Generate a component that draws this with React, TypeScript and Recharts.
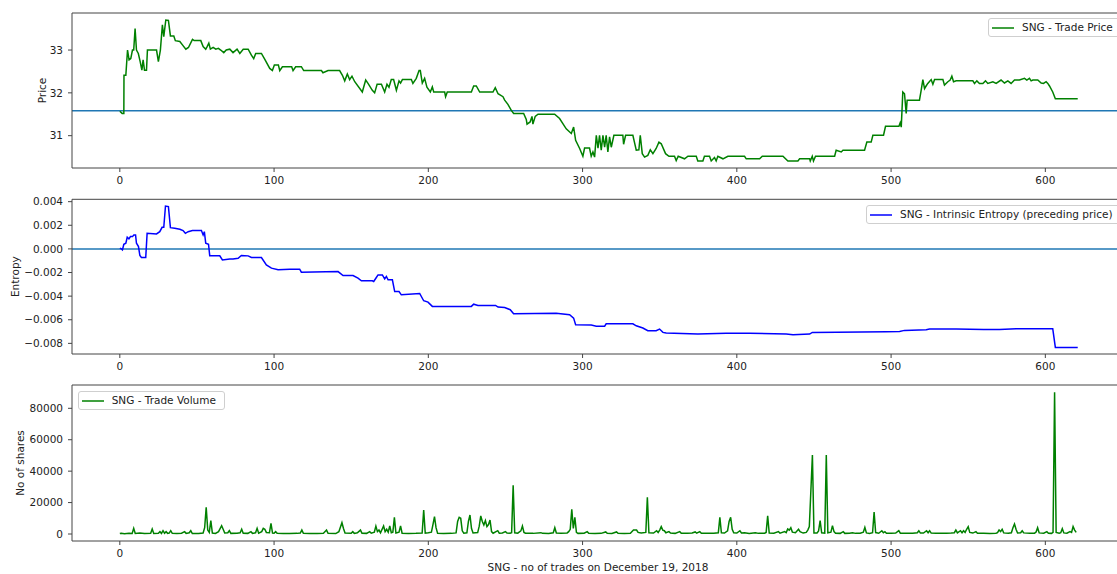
import React from 'react';
import { LineChart, Line, XAxis, YAxis, ReferenceLine, Legend } from 'recharts';

// ---- data (x = trade number) ----
const pricePoints: [number, number][] = [
  [0, 31.57], [1.5, 31.52], [2.6, 31.52], [2.7, 32.41], [3.9, 32.41], [5, 33.0], [6, 32.77], [7.1, 32.8], [8.2, 33.0], [9, 33.0],
  [9.9, 33.5], [10.8, 33.0], [12, 32.92], [13.2, 32.73], [14.3, 32.53], [15.1, 32.77], [16, 32.53], [17.3, 32.53], [17.9, 33.0], [23.8, 33.0],
  [25, 32.73], [26.3, 33.0], [27.6, 33.59], [28.5, 33.31], [29.8, 33.7], [31.5, 33.69], [32.8, 33.33], [35, 33.33], [36, 33.22], [38.9, 33.2],
  [40.6, 33.12], [42.8, 33.02], [44.5, 33.06], [47.1, 33.25], [48.2, 33.22], [52.5, 33.22], [54, 33.08], [55.7, 33.02], [56.6, 33.08], [57.7, 33.16],
  [58.7, 33.02], [60.5, 33.06], [62.2, 33.02], [63.9, 33.04], [65.4, 33.0], [67.4, 32.94], [69, 33.0], [71.3, 33.02], [73.4, 32.94], [76, 33.02],
  [77.8, 32.92], [80, 33.02], [83.2, 33.02], [85.3, 32.88], [86.8, 32.8], [88.1, 32.92], [91.8, 32.92], [94, 32.78], [97.2, 32.57], [98.9, 32.52],
  [100.2, 32.65], [102.8, 32.65], [103.7, 32.52], [105.4, 32.61], [111.4, 32.61], [112.3, 32.52], [114, 32.61], [117.7, 32.61], [119.2, 32.52], [130.7, 32.52],
  [131.7, 32.47], [135, 32.52], [142.5, 32.52], [144.3, 32.41], [145.8, 32.28], [147.5, 32.44], [149, 32.31], [150.5, 32.39], [152.3, 32.26], [157.2, 32.02],
  [159.4, 32.3], [160.9, 32.22], [163.7, 32.06], [165.2, 32.0], [166.8, 32.2], [169.6, 32.2], [171.7, 32.02], [173.2, 32.2], [174.5, 32.13], [176, 32.31],
  [177.5, 32.31], [179.3, 32.06], [181, 32.28], [182, 32.23], [183.2, 32.31], [189, 32.31], [190, 32.22], [192.2, 32.34], [194, 32.52], [194.8, 32.52],
  [196.1, 32.23], [197.6, 32.34], [199.1, 32.13], [201.3, 32.02], [202.6, 32.14], [203.5, 32.02], [210.6, 32.02], [211.2, 31.91], [212.3, 32.02], [227.9, 32.02],
  [229.4, 32.16], [231.1, 32.16], [233.3, 32.02], [241.9, 32.02], [243.4, 32.12], [245.2, 31.98], [248.4, 31.91], [249.5, 31.83], [251.6, 31.73], [253.8, 31.59],
  [255.3, 31.52], [261.8, 31.52], [263.5, 31.38], [264, 31.27], [266, 31.32], [267.2, 31.45], [267.8, 31.27], [269.3, 31.45], [271.1, 31.5], [281.9, 31.5],
  [285.1, 31.4], [289.4, 31.16], [292.7, 31.05], [294.2, 31.2], [295.5, 30.89], [298.1, 30.7], [300.2, 30.52], [301.3, 30.71], [304.5, 30.71], [305.6, 30.52],
  [306.7, 30.62], [307.8, 30.5], [308.9, 31.01], [310, 30.71], [311, 31.01], [312.1, 30.66], [313.2, 31.01], [314.3, 30.73], [315.3, 31.01], [316.4, 30.62],
  [317.5, 30.97], [318.6, 30.73], [320.3, 31.01], [326.1, 31.01], [326.6, 30.8], [327.9, 31.01], [332.6, 31.01], [334.8, 30.66], [336.5, 30.67], [337.4, 31.01],
  [338.7, 30.58], [340.2, 30.5], [342.3, 30.54], [343.9, 30.67], [345.6, 30.58], [347.7, 30.7], [349.5, 30.85], [351, 30.81], [353.8, 30.58], [356, 30.52],
  [359.6, 30.52], [360.7, 30.42], [362, 30.52], [366.1, 30.46], [368.3, 30.52], [373.7, 30.52], [374.7, 30.41], [378, 30.41], [379, 30.52], [382.3, 30.52],
  [383.4, 30.41], [385.5, 30.49], [386.6, 30.41], [387.7, 30.52], [391, 30.46], [394.2, 30.52], [405, 30.52], [406.1, 30.46], [414.8, 30.46], [416.5, 30.52],
  [429.9, 30.52], [433.1, 30.41], [439.6, 30.41], [440.7, 30.46], [447.2, 30.46], [447.6, 30.41], [448.9, 30.52], [449.7, 30.41], [451, 30.52], [463.4, 30.52],
  [464.4, 30.66], [467.7, 30.62], [468.8, 30.66], [482.8, 30.66], [484.3, 30.85], [487.1, 30.85], [488.2, 31.01], [495.1, 31.01], [496.4, 31.22], [505.1, 31.22],
  [505.9, 31.3], [506.6, 31.2], [507.6, 32.02], [508.7, 31.98], [509.8, 31.52], [510.4, 31.83], [512, 31.83], [518.4, 31.83], [519.5, 32.06], [520.6, 32.31],
  [521.7, 32.1], [522.7, 32.16], [523.8, 32.22], [526, 32.31], [527.1, 32.2], [528.2, 32.31], [533.6, 32.31], [534.6, 32.18], [536.8, 32.26], [538.3, 32.3],
  [539.4, 32.39], [540.5, 32.26], [542.2, 32.28], [553, 32.28], [554.1, 32.22], [555.6, 32.28], [557.3, 32.22], [559.5, 32.22], [561.2, 32.28], [562.7, 32.22],
  [566, 32.26], [568.1, 32.22], [571.3, 32.3], [573.5, 32.23], [575.7, 32.28], [577.8, 32.22], [580, 32.3], [583.2, 32.3], [586.5, 32.34], [588, 32.3],
  [589.7, 32.34], [590.8, 32.28], [591.9, 32.3], [595.1, 32.3], [597.3, 32.23], [598.8, 32.22], [600.5, 32.26], [601.6, 32.22], [602.7, 32.16], [604.8, 32.02],
  [606.5, 31.86], [621, 31.86],
];

const entropyPoints: [number, number][] = [
  [0, 0.00006], [1, 0], [1.7, -0.00008], [2.6, 0.00039], [3.9, 0.00048], [4.8, 0.00099], [5.9, 0.00085], [6.9, 0.00104], [8.2, 0.00104], [9.1, 0.00118],
  [10.2, 0.00118], [10.8, 0.00048], [12.1, 0.0002], [13, -0.00056], [14, -0.00073], [16.8, -0.00073], [17.7, 0.00132], [23.8, 0.00127], [25.9, 0.00146], [27.4, 0.00183],
  [28.5, 0.00183], [29.6, 0.00363], [31.5, 0.00358], [32.8, 0.0018], [35.6, 0.00175], [38.9, 0.00166], [41, 0.00155], [42.5, 0.00132], [44.3, 0.00146], [47.1, 0.00155],
  [52.9, 0.00155], [54, 0.00118], [54.8, 0.00146], [55.7, 0.00048], [57.5, 0.00039], [58.3, -0.00059], [64.8, -0.00059], [66.5, -0.00093], [71.3, -0.00085], [73.4, -0.00085],
  [76.7, -0.00079], [78.8, -0.00056], [83.2, -0.00059], [85.3, -0.00073], [91.8, -0.00073], [95, -0.00135], [98.3, -0.00163], [102.6, -0.00177], [110.2, -0.00172], [116.6, -0.00172],
  [117.7, -0.00197], [141.5, -0.00192], [144.7, -0.00225], [151.2, -0.00225], [154.4, -0.00248], [156.6, -0.0027], [163.7, -0.0027], [164.6, -0.00276], [166.3, -0.00242], [167.4, -0.0022],
  [170.2, -0.0022], [171.7, -0.00254], [172.8, -0.00234], [173.9, -0.00262], [176.7, -0.00262], [178.2, -0.00361], [181, -0.00361], [182.5, -0.00389], [194.4, -0.00377], [197, -0.00439],
  [199.8, -0.00451], [202.6, -0.00487], [227.9, -0.00487], [229.4, -0.00468], [232.2, -0.00479], [243.6, -0.00479], [245.2, -0.00493], [249.5, -0.00496], [253.1, -0.00515], [255.3, -0.00549],
  [282.9, -0.00544], [291.6, -0.00558], [294.2, -0.00586], [295.5, -0.00642], [305.6, -0.00645], [308.9, -0.00654], [314.3, -0.00654], [315.3, -0.00634], [332.6, -0.00634], [334.8, -0.00651],
  [339.1, -0.0067], [342.3, -0.00693], [347.7, -0.00693], [349.9, -0.00679], [352.1, -0.00707], [354.2, -0.00713], [374.7, -0.00721], [393.1, -0.00715], [408.2, -0.00715], [432, -0.00721],
  [436.4, -0.00727], [447.2, -0.00721], [448.9, -0.00707], [496.8, -0.00701], [505.5, -0.00699], [508.7, -0.0069], [522.8, -0.00685], [524.9, -0.00679], [542.2, -0.00679], [560, -0.00682],
  [570.3, -0.00682], [581.1, -0.00676], [604.8, -0.00676], [606.5, -0.00834], [621, -0.00834],
];

const volumePoints: [number, number][] = [
  [0, 300], [1, 500], [3, 200], [6, 400], [8, 300], [9, 3600], [10, 300], [13, 600], [16, 300], [20, 400],
  [21, 3200], [22, 300], [25, 500], [26, 1500], [27, 400], [28, 2100], [29, 500], [30, 1500], [31, 400], [32, 600],
  [33, 2100], [34, 400], [37, 300], [40, 500], [42, 1500], [43, 400], [45, 800], [46, 2100], [47, 300], [51, 300],
  [54, 600], [55, 4000], [56, 17000], [57, 2500], [58, 1000], [59, 8500], [60, 600], [62, 400], [64, 1500], [66, 5300],
  [67, 3000], [68, 600], [70, 800], [71, 2100], [72, 400], [76, 500], [78, 800], [79, 3000], [80, 500], [83, 400],
  [85, 1500], [86, 400], [88, 800], [89, 3600], [90, 500], [92, 1500], [93, 3600], [94, 3000], [95, 1000], [97, 800],
  [98, 6800], [99, 600], [100, 500], [101, 1500], [102, 400], [106, 300], [110, 300], [115, 400], [117, 600], [118, 2500],
  [119, 400], [123, 300], [128, 300], [132, 500], [134, 2500], [135, 400], [140, 300], [142, 1500], [144, 7200], [145, 3500],
  [146, 600], [150, 500], [151, 1500], [152, 400], [154, 800], [156, 2500], [157, 500], [160, 400], [162, 1500], [163, 500],
  [165, 1200], [166, 5000], [167, 1500], [168, 2500], [169, 800], [171, 5100], [172, 1500], [173, 3000], [174, 1200], [175, 5100],
  [176, 800], [177, 1200], [178, 10600], [179, 600], [181, 1200], [182, 5100], [183, 500], [187, 300], [192, 400], [196, 600],
  [197, 15300], [198, 600], [200, 800], [202, 1200], [203, 6000], [204, 11000], [205, 4000], [206, 500], [210, 300], [215, 400],
  [218, 700], [219, 8000], [220, 10600], [221, 10000], [222, 2000], [223, 500], [225, 800], [226, 8000], [227, 12100], [228, 3500],
  [229, 700], [232, 900], [233, 5000], [234, 11500], [235, 8000], [236, 5700], [237, 8500], [238, 4700], [239, 6000], [240, 8900],
  [241, 1500], [242, 500], [245, 2100], [246, 500], [248, 700], [250, 1500], [251, 600], [253, 500], [254, 800], [255, 31000],
  [256, 800], [258, 500], [260, 2000], [261, 5100], [262, 1000], [263, 500], [268, 400], [273, 850], [274, 400], [278, 300],
  [281, 800], [282, 4000], [283, 600], [286, 400], [290, 700], [291, 1500], [292, 3000], [293, 15700], [294, 3600], [295, 10600],
  [296, 1000], [297, 400], [301, 500], [303, 1500], [304, 400], [308, 300], [312, 400], [315, 1300], [316, 400], [319, 300],
  [322, 1300], [323, 400], [327, 300], [331, 500], [333, 2500], [335, 2500], [336, 1000], [338, 600], [341, 1000], [342, 23300],
  [343, 800], [346, 600], [348, 2100], [349, 1000], [350, 2500], [351, 4700], [352, 2500], [353, 2100], [354, 800], [356, 1500],
  [357, 600], [360, 400], [363, 1500], [364, 400], [368, 400], [371, 600], [373, 1300], [374, 500], [376, 1500], [377, 500],
  [381, 400], [385, 500], [388, 800], [389, 10600], [390, 800], [392, 600], [394, 2000], [395, 8000], [396, 10600], [397, 3000],
  [398, 800], [400, 600], [402, 2100], [403, 700], [405, 850], [408, 400], [412, 850], [414, 400], [418, 500], [419, 1000],
  [420, 11500], [421, 600], [424, 500], [427, 1500], [428, 500], [431, 1500], [432, 900], [433, 3200], [434, 2500], [435, 4000],
  [436, 1200], [438, 800], [440, 3000], [441, 1500], [443, 600], [445, 1000], [446, 2500], [447, 4700], [449, 50300], [450, 600],
  [452, 700], [453, 2000], [454, 8500], [455, 800], [457, 600], [458, 50300], [459, 800], [461, 1200], [462, 5300], [463, 1500],
  [464, 500], [467, 400], [469, 1500], [470, 400], [473, 500], [475, 850], [477, 400], [480, 500], [482, 1200], [483, 4200],
  [484, 700], [486, 400], [488, 800], [489, 14000], [490, 900], [492, 500], [494, 2100], [495, 800], [496, 1500], [497, 500],
  [500, 400], [503, 600], [505, 2100], [506, 500], [510, 400], [514, 500], [517, 800], [518, 2100], [519, 600], [521, 600],
  [523, 2100], [524, 800], [525, 2100], [526, 600], [529, 400], [533, 500], [536, 400], [539, 600], [541, 800], [542, 2500],
  [543, 700], [545, 2100], [546, 800], [547, 2100], [548, 1000], [549, 3000], [550, 4700], [551, 1000], [553, 600], [555, 1500],
  [556, 500], [560, 400], [564, 300], [568, 500], [569, 900], [570, 2500], [571, 1500], [572, 3000], [573, 700], [576, 500],
  [578, 800], [579, 4000], [580, 6400], [581, 3000], [582, 600], [584, 800], [585, 2100], [586, 700], [590, 400], [593, 500],
  [594, 1200], [595, 4000], [596, 700], [599, 500], [601, 1500], [602, 500], [604, 400], [605, 1000], [606, 90200], [607, 1000],
  [609, 500], [610, 800], [611, 3400], [612, 700], [614, 500], [616, 1500], [617, 1000], [618, 4700], [619, 2500], [620, 1000],
];

const xTicks = [0, 100, 200, 300, 400, 500, 600];
const priceTicks = [31, 32, 33];
const entropyTicks = [-0.008, -0.006, -0.004, -0.002, 0, 0.002, 0.004];
const volumeTicks = [0, 20000, 40000, 60000, 80000];

const xDomain: [number, number] = [-31, 651];
const priceDomain: [number, number] = [30.245, 33.865];
const entropyDomain: [number, number] = [-0.0089, 0.0042];
const volumeDomain: [number, number] = [-4455, 94830];

const priceRefLevel = 31.58;
const entropyRefLevel = 0;

const seriesLabels = {
  price: 'SNG - Trade Price',
  entropy: 'SNG - Intrinsic Entropy (preceding price)',
  volume: 'SNG - Trade Volume',
};
const axisTitles = {
  price: 'Price',
  entropy: 'Entropy',
  volume: 'No of shares',
  x: 'SNG - no of trades on December 19, 2018',
};

const toRows = (pts: [number, number][]) => pts.map(([x, y]) => ({ x, y }));

const FONT = '"DejaVu Sans", Verdana, sans-serif';
const FS = 10.5;
const TEXT = '#222';
const SPINE = '#444';
const CHART_W = 1140;

const fmtEntropy = (v: number) => (v < 0 ? '\u2212' : '') + Math.abs(v).toFixed(3);

const yTitle = (text: string, baselineX: number) => (props: any) => {
  const vb = props.viewBox || { y: 0, height: 0 };
  const cy = vb.y + vb.height / 2;
  return (
    <text x={baselineX} y={cy} transform={`rotate(-90, ${baselineX}, ${cy})`} textAnchor="middle"
      fontSize={FS} fill={TEXT} fontFamily={FONT}>{text}</text>
  );
};

const xTitle = (text: string, dy: number) => (props: any) => {
  const vb = props.viewBox || { x: 0, y: 0, width: 0 };
  return (
    <text x={vb.x + vb.width / 2} y={vb.y + dy} textAnchor="middle" fontSize={FS} fill={TEXT} fontFamily={FONT}>{text}</text>
  );
};

const LegendBox = ({ label, color, width }: { label: string; color: string; width: number }) => (
  <div style={{
    position: 'relative', width, height: 19, boxSizing: 'border-box', border: '1px solid #cfcfcf', borderRadius: 3,
    background: 'rgba(255,255,255,0.85)', fontFamily: FONT, fontSize: FS, color: TEXT, whiteSpace: 'nowrap',
  }}>
    <svg width={24} height={6} style={{ position: 'absolute', left: 3, top: 6 }}>
      <line x1={0} y1={3} x2={22} y2={3} stroke={color} strokeWidth={1.5} />
    </svg>
    <span style={{ position: 'absolute', left: 33, top: 2, lineHeight: '13px' }}>{label}</span>
  </div>
);

type PanelProps = {
  top: number; height: number; marginTop: number; xAxisHeight: number;
  rows: { x: number; y: number }[]; color: string; domain: [number, number]; ticks: number[];
  fmt?: (v: number) => string; refY?: number; title: string; titleX: number;
  legendLabel: string; legendLeft: number; legendTop: number; legendWidth: number;
  xLabel?: string;
};

const Panel = (p: PanelProps) => (
  <div style={{ position: 'absolute', left: 0, top: p.top, width: CHART_W, height: p.height }}>
    <LineChart width={CHART_W} height={p.height} margin={{ top: p.marginTop, right: 16, bottom: 0, left: 0 }}>
      <XAxis dataKey="x" type="number" domain={xDomain} ticks={xTicks} allowDataOverflow interval={0}
        height={p.xAxisHeight} tickSize={4} tickMargin={4.5} stroke={SPINE}
        tick={{ fontSize: FS, fill: TEXT, fontFamily: FONT }}
        label={p.xLabel ? xTitle(p.xLabel, 29.5) : undefined} />
      <YAxis type="number" domain={p.domain} ticks={p.ticks} allowDataOverflow interval={0} width={72}
        tickSize={4} tickMargin={5} stroke={SPINE} tickFormatter={p.fmt}
        tick={{ fontSize: FS, fill: TEXT, fontFamily: FONT }}
        label={yTitle(p.title, p.titleX)} />
      {/* top spine of the axes box */}
      <ReferenceLine y={p.domain[1]} stroke={SPINE} strokeWidth={1} />
      {p.refY !== undefined && (
        <ReferenceLine y={p.refY} stroke="#1f77b4" strokeWidth={1.5} />
      )}
      <Line data={p.rows} dataKey="y" type="linear" stroke={p.color} strokeWidth={1.5} dot={false}
        activeDot={false} isAnimationActive={false} />
      <Legend layout="vertical" align="center" verticalAlign="middle"
        wrapperStyle={{ left: p.legendLeft, top: p.legendTop, width: 'auto', height: 'auto' }}
        content={() => <LegendBox label={p.legendLabel} color={p.color} width={p.legendWidth} />} />
    </LineChart>
  </div>
);

export default function App() {
  return (
    <div style={{ position: 'absolute', left: 0, top: 0, width: 1117, height: 574, overflow: 'hidden', background: '#fff', fontFamily: FONT }}>
      <Panel top={0} height={190} marginTop={13} xAxisHeight={22} rows={toRows(pricePoints)} color="#008000"
        domain={priceDomain} ticks={priceTicks} refY={priceRefLevel} title={axisTitles.price} titleX={46}
        legendLabel={seriesLabels.price} legendLeft={988} legendTop={18} legendWidth={132} />
      <Panel top={186} height={190} marginTop={13.3} xAxisHeight={22} rows={toRows(entropyPoints)} color="#0000ff"
        domain={entropyDomain} ticks={entropyTicks} fmt={fmtEntropy} refY={entropyRefLevel} title={axisTitles.entropy} titleX={19.5}
        legendLabel={seriesLabels.entropy} legendLeft={866} legendTop={19} legendWidth={254} />
      <Panel top={372} height={202} marginTop={13} xAxisHeight={33} rows={toRows(volumePoints)} color="#008000"
        domain={volumeDomain} ticks={volumeTicks} title={axisTitles.volume} titleX={24.3}
        legendLabel={seriesLabels.volume} legendLeft={77.7} legendTop={19} legendWidth={147}
        xLabel={axisTitles.x} />
    </div>
  );
}
